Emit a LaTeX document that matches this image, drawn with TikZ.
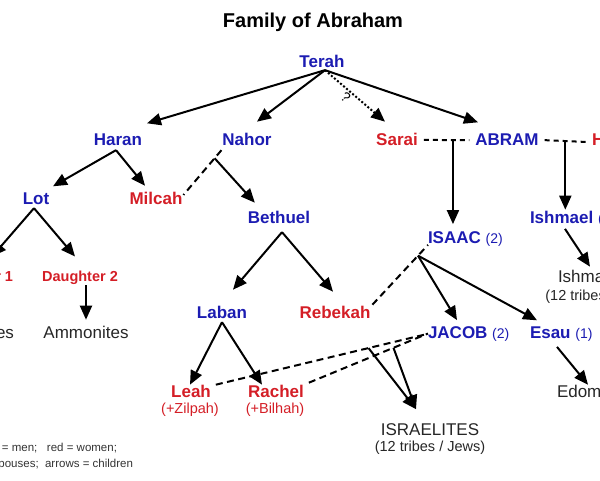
\documentclass[tikz,border=0pt]{standalone}
\usepackage{fontspec}
\setmainfont{Liberation Sans}
\usetikzlibrary{calc,arrows.meta}
\definecolor{manblue}{RGB}{28,28,178}
\definecolor{womanred}{RGB}{212,30,38}
\newcommand{\birthno}[1]{{\fontsize{14}{16}\selectfont\mdseries #1}}

\begin{document}
\begin{tikzpicture}[x=1pt,y=-1pt,
    every node/.style={inner sep=0pt, outer sep=0pt, anchor=base},
    man/.style={text=manblue, font=\fontsize{17}{20}\selectfont\bfseries},
    woman/.style={text=womanred, font=\fontsize{17}{20}\selectfont\bfseries},
    daughter/.style={text=womanred, font=\fontsize{14.5}{17}\selectfont\bfseries},
    folk/.style={text=black!85, font=\fontsize{17}{20}\selectfont},
    note/.style={font=\fontsize{14.5}{17}\selectfont},
    legend/.style={text=black!80, font=\fontsize{11.5}{13}\selectfont},
    child/.style={line width=2pt, -{Triangle[length=14pt,width=12pt]}},
    spouse/.style={line width=2pt, dash pattern=on 7pt off 4.5pt}]
\useasboundingbox (0,0) rectangle (600,480);
\clip (0,0) rectangle (600,480);

    \node[font=\fontsize{20}{24}\selectfont\bfseries] (title) at (313,27) {Family of Abraham};

    % generations, top to bottom
    \node[man] (terah) at (322,67) {Terah};
    \node[man] (haran) at (118,145) {Haran};
    \node[man] (nahor) at (247,145) {Nahor};
    \node[woman] (sarai) at (397,145) {Sarai};
    \node[man] (abram) at (507,145) {ABRAM};
    \node[woman, anchor=base west] (hagar) at (592,145) {Hagar};
    \node[man] (lot) at (36,204) {Lot};
    \node[woman] (milcah) at (156,204) {Milcah};
    \node[man] (bethuel) at (279,223) {Bethuel};
    \node[man, anchor=base west] (isaac) at (428,243) {ISAAC \birthno{(2)}};
    \node[man, anchor=base west] (ishmael) at (530,223) {Ishmael \birthno{(1)}};
    \node[daughter, anchor=base east] (daughter1) at (13,281) {Daughter 1};
    \node[daughter] (daughter2) at (80,281) {Daughter 2};
    \node[folk, anchor=base east] (moabites) at (14,338) {Moabites};
    \node[folk] (ammonites) at (86,338) {Ammonites};
    \node[folk] (ishmaelites) at (601,282) {Ishmaelites};
    \node[folk, note] (ishmaelites-note) at (603,300) {(12 tribes / Arabs)};
    \node[man] (laban) at (222,318) {Laban};
    \node[woman] (rebekah) at (335,318) {Rebekah};
    \node[man, anchor=base west] (jacob) at (428,338) {JACOB \birthno{(2)}};
    \node[man, anchor=base west] (esau) at (530,338) {Esau \birthno{(1)}};
    \node[woman] (leah) at (191,397) {Leah};
    \node[text=womanred, note] (leah-note) at (190,413) {(+Zilpah)};
    \node[woman] (rachel) at (276,397) {Rachel};
    \node[text=womanred, note] (rachel-note) at (275,413) {(+Bilhah)};
    \node[folk, anchor=base west] (edomites) at (557,397) {Edomites};
    \node[folk] (israelites) at (430,435) {ISRAELITES};
    \node[folk, note] (israelites-note) at (430,451) {(12 tribes / Jews)};

    % key
    \node[legend, anchor=base east] (key1) at (117,451) {blue = men;\ \ \ red = women;};
    \node[legend, anchor=base east] (key2) at (133,467) {dashes = spouses;\ \ arrows = children};

    % Terah
    \coordinate (terah-fork) at ($(terah.south)+(3,3)$);
    \draw[child] (terah-fork) -- ($(haran.north)+(29,-10)$);
    \draw[child] (terah-fork) -- ($(nahor.north)+(10,-11)$);
    \draw[child, dash pattern=on 2pt off 2pt] (terah-fork)
        -- node[sloped, below=2pt, pos=0.42, font=\fontsize{14}{16}\selectfont] (doubt) {?}
        ($(sarai.north)+(-12,-11)$);
    \draw[child] (terah-fork) -- ($(abram.north)+(-29,-11)$);

    % Abram, Sarai, Hagar
    \draw[spouse, dash pattern=on 5pt off 4pt] ($(sarai.east)+(6,1)$)
        -- coordinate[pos=0.64] (abram-sarai) ($(abram.west)+(-6,1)$);
    \draw[spouse, dash pattern=on 5pt off 4pt] ($(abram.east)+(6,1)$)
        -- coordinate[pos=0.5] (abram-hagar) ($(hagar.west)+(-6,1)$);
    \draw[child, shorten >=7pt] (abram-sarai) -- (abram-sarai |- isaac.north);
    \draw[child, shorten >=1pt] (abram-hagar) -- (abram-hagar |- ishmael.north);
    \draw[child] ($(ishmael.south west)+(35,3)$) -- ($(ishmaelites.north west)+(32,-3)$);

    % Haran
    \coordinate (haran-fork) at ($(haran.south)+(-2,5)$);
    \draw[child] (haran-fork) -- ($(lot.north)+(17,-6)$);
    \draw[child] (haran-fork) -- ($(milcah.north)+(-11,-6)$);

    % Lot
    \coordinate (lot-fork) at ($(lot.south)+(-2,4)$);
    \draw[child] (lot-fork) -- ($(daughter1.north)+(17,-14)$);
    \draw[child] (lot-fork) -- ($(daughter2.north)+(-5,-14)$);
    \draw[child] ($(moabites.north |- daughter1.south)+(0,1)$) -- ($(moabites.north)+(0,-6)$);
    \draw[child] ($(ammonites.north |- daughter2.south)+(0,1)$) -- ($(ammonites.north)+(0,-6)$);

    % Nahor, Milcah
    \draw[spouse] ($(nahor.south west)+(-1,5)$)
        -- coordinate[pos=0.18] (nahor-milcah) ($(milcah.east)+(1,-3)$);
    \draw[child] (nahor-milcah) -- ($(bethuel.north west)+(7,-8)$);

    % Bethuel
    \coordinate (bethuel-fork) at ($(bethuel.south)+(3,9)$);
    \draw[child] (bethuel-fork) -- ($(laban.north)+(11,-16)$);
    \draw[child] (bethuel-fork) -- ($(rebekah.north)+(-2,-14)$);

    % Laban
    \coordinate (laban-fork) at ($(laban.south)+(0,4)$);
    \draw[child] (laban-fork) -- ($(leah.north)+(-1,0)$);
    \draw[child] (laban-fork) -- ($(rachel.north)+(-14,0)$);

    % Isaac, Rebekah
    \draw[spouse] ($(rebekah.north east)+(2,-1)$)
        -- coordinate[pos=0.82] (isaac-rebekah) ($(isaac.south west)+(0,-1)$);
    \draw[child] (isaac-rebekah) -- ($(jacob.north west)+(29,-6)$);
    \draw[child] (isaac-rebekah) -- ($(esau.north west)+(7,-6)$);
    \draw[child] ($(esau.south west)+(27,6)$) -- ($(edomites.north west)+(31,0)$);

    % Jacob, Leah, Rachel
    \draw[spouse] ($(leah.north east)+(5,0)$)
        -- coordinate[pos=0.73] (jacob-leah) ($(jacob.west)+(-3,1)$);
    \draw[spouse] ($(rachel.north east)+(5,-2)$)
        -- coordinate[pos=0.71] (jacob-rachel) (jacob.west);
    \draw[child] (jacob-leah) -- ($(israelites.north)+(-14,-14)$);
    \draw[child] (jacob-rachel) -- ($(israelites.north)+(-14,-14)$);
\end{tikzpicture}
\end{document}
